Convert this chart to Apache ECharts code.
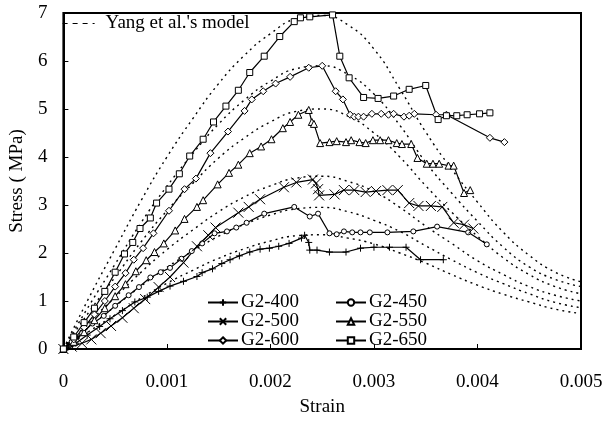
<!DOCTYPE html>
<html>
<head>
<meta charset="utf-8">
<script src="https://cdn.jsdelivr.net/npm/echarts@6/dist/echarts.min.js"></script>
<style>
  html, body { margin: 0; padding: 0; background: #fff; }
  #chart { width: 613px; height: 422px; }
</style>
</head>
<body>
<div id="chart"></div>
<script>
// ---- data ----
const xTicks = [0, 0.001, 0.002, 0.003, 0.004, 0.005];
const yTicks = [0, 1, 2, 3, 4, 5, 6, 7];

// experimental curves, [strain, stress (MPa)]
const g400 = [[0,0],[0.00012,0.12],[0.00023,0.29],[0.00035,0.47],[0.00045,0.63],[0.00057,0.8],[0.00069,0.98],[0.00081,1.08],[0.00092,1.2],[0.00103,1.31],[0.00116,1.41],[0.00129,1.51],[0.00134,1.59],[0.00144,1.67],[0.00153,1.78],[0.00161,1.86],[0.0017,1.94],[0.0018,2.02],[0.0019,2.08],[0.00199,2.1],[0.00208,2.14],[0.00218,2.2],[0.0023,2.31],[0.00233,2.37],[0.00237,2.22],[0.00238,2.06],[0.00245,2.06],[0.00257,2.02],[0.00273,2.02],[0.00287,2.1],[0.003,2.12],[0.00315,2.12],[0.00331,2.12],[0.00345,1.86],[0.00367,1.86]];
const g450 = [[0,0],[0.00008,0.15],[0.00018,0.33],[0.00028,0.53],[0.00039,0.69],[0.0005,0.9],[0.00063,1.12],[0.00073,1.29],[0.00084,1.49],[0.00094,1.6],[0.00103,1.69],[0.00114,1.88],[0.00124,2.04],[0.00134,2.2],[0.00146,2.41],[0.00158,2.45],[0.00167,2.53],[0.00177,2.63],[0.00194,2.82],[0.00223,2.96],[0.00238,2.76],[0.00246,2.82],[0.00257,2.41],[0.00264,2.39],[0.00271,2.45],[0.00279,2.43],[0.00287,2.43],[0.00296,2.43],[0.00313,2.43],[0.00338,2.45],[0.00361,2.55],[0.00391,2.43],[0.00409,2.18]];
const g500 = [[0,0],[0.00008,0.05],[0.00018,0.12],[0.00027,0.2],[0.00036,0.33],[0.00046,0.48],[0.00057,0.65],[0.00068,0.85],[0.00079,1.04],[0.00092,1.29],[0.00103,1.5],[0.00116,1.8],[0.00129,2.14],[0.0014,2.37],[0.00147,2.53],[0.00169,2.84],[0.00179,2.96],[0.0019,3.12],[0.00213,3.37],[0.00225,3.47],[0.00241,3.53],[0.00244,3.45],[0.00246,3.33],[0.00247,3.2],[0.00262,3.22],[0.00271,3.31],[0.00281,3.31],[0.00292,3.27],[0.00302,3.29],[0.00313,3.31],[0.00323,3.31],[0.00334,3.04],[0.00343,2.98],[0.00355,2.98],[0.00366,2.96],[0.00377,2.63],[0.00387,2.59],[0.00396,2.51]];
const g550 = [[0,0],[0.0001,0.15],[0.0002,0.35],[0.0003,0.6],[0.0004,0.85],[0.0005,1.1],[0.0006,1.35],[0.0007,1.62],[0.0008,1.85],[0.00088,2.02],[0.00097,2.2],[0.00108,2.47],[0.00117,2.71],[0.00129,2.96],[0.00135,3.1],[0.00149,3.43],[0.0016,3.67],[0.00169,3.84],[0.0018,4.08],[0.00191,4.22],[0.00201,4.37],[0.00212,4.6],[0.00219,4.73],[0.00227,4.88],[0.00237,4.98],[0.0024,4.73],[0.00242,4.69],[0.00248,4.29],[0.00257,4.31],[0.00264,4.33],[0.00273,4.31],[0.00278,4.35],[0.00286,4.31],[0.00292,4.29],[0.00299,4.35],[0.00306,4.35],[0.00314,4.35],[0.00322,4.29],[0.00327,4.27],[0.00336,4.27],[0.00342,3.98],[0.00351,3.86],[0.00357,3.86],[0.00363,3.86],[0.00372,3.82],[0.00377,3.82],[0.00387,3.25],[0.00393,3.31]];
const g600 = [[0,0],[0.0001,0.2],[0.0002,0.45],[0.0003,0.72],[0.0004,1.0],[0.0005,1.3],[0.0006,1.58],[0.00068,1.86],[0.00077,2.1],[0.00087,2.41],[0.00102,2.88],[0.00117,3.33],[0.00128,3.55],[0.00142,4.08],[0.00159,4.53],[0.00175,4.96],[0.00182,5.2],[0.00193,5.37],[0.00205,5.53],[0.00219,5.67],[0.00237,5.86],[0.0025,5.9],[0.00263,5.37],[0.0027,5.2],[0.00277,4.88],[0.00281,4.84],[0.00285,4.84],[0.0029,4.84],[0.00298,4.9],[0.00307,4.9],[0.00314,4.88],[0.00319,4.9],[0.00329,4.84],[0.00334,4.86],[0.00339,4.9],[0.0036,4.88],[0.0037,4.88],[0.00412,4.4],[0.00426,4.31]];
const g650 = [[0,0],[0.0001,0.25],[0.0002,0.55],[0.0003,0.85],[0.0004,1.2],[0.0005,1.6],[0.00059,1.98],[0.00067,2.22],[0.00074,2.51],[0.00084,2.73],[0.0009,3.04],[0.00102,3.33],[0.00112,3.65],[0.00122,4.02],[0.00135,4.37],[0.00145,4.73],[0.00157,5.06],[0.00169,5.39],[0.0018,5.76],[0.00194,6.1],[0.00209,6.51],[0.00223,6.82],[0.00229,6.9],[0.00238,6.92],[0.0026,6.96],[0.00267,6.1],[0.00276,5.65],[0.0029,5.24],[0.00304,5.22],[0.00319,5.27],[0.00334,5.41],[0.0035,5.49],[0.00362,4.78],[0.0037,4.86],[0.0038,4.86],[0.0039,4.88],[0.00402,4.9],[0.00412,4.92]];

// Yang et al.'s model curves, stress at modelStrain
const modelStrain = [0,0.00025,0.0005,0.00075,0.001,0.00125,0.0015,0.00175,0.002,0.00225,0.0025,0.00275,0.003,0.00325,0.0035,0.00375,0.004,0.00425,0.0045,0.00475,0.005];
const model650 = [0,1.08,2.09,3.09,4.0,4.8,5.53,6.12,6.57,6.88,6.95,6.75,6.25,5.42,4.52,3.75,3.06,2.43,1.95,1.6,1.4];
const model600 = [0,0.91,1.77,2.63,3.39,4.07,4.69,5.19,5.58,5.84,5.9,5.72,5.31,4.66,3.89,3.25,2.66,2.12,1.71,1.45,1.3];
const model550 = [0,0.78,1.5,2.23,2.88,3.45,3.98,4.4,4.73,4.95,5.0,4.85,4.5,4.0,3.4,2.85,2.35,1.9,1.55,1.3,1.15];
const model500 = [0,0.56,1.08,1.6,2.07,2.48,2.86,3.17,3.4,3.56,3.6,3.49,3.28,2.95,2.56,2.2,1.84,1.55,1.3,1.12,1.0];
const model450 = [0,0.46,0.89,1.31,1.7,2.04,2.35,2.6,2.79,2.92,2.95,2.86,2.68,2.45,2.15,1.86,1.59,1.36,1.15,0.97,0.86];
const model400 = [0,0.37,0.71,1.06,1.37,1.64,1.89,2.09,2.25,2.36,2.38,2.31,2.19,2.0,1.79,1.55,1.33,1.14,0.98,0.83,0.74];

const modelName = "Yang et al.'s model";
const font = 'Liberation Serif';

const chart = echarts.init(document.getElementById('chart'));

const expSeries = (name, data, symbol, size) => ({
  name,
  type: 'line',
  data,
  symbol,
  symbolSize: size,
  showSymbol: true,
  lineStyle: { color: '#000', width: 1.2 },
  itemStyle: { color: '#fff', borderColor: '#000', borderWidth: 1 },
  z: 3
});

const modelSeries = (vals) => ({
  name: modelName,
  type: 'line',
  data: modelStrain.map((x, i) => [x, vals[i]]),
  smooth: true,
  showSymbol: false,
  symbol: 'none',
  lineStyle: { color: '#000', width: 1.4, type: [2, 4] },
  itemStyle: { color: '#000' },
  z: 2
});

const legendText = { fontFamily: font, fontSize: 19, color: '#000', padding: [0, 0, 0, -2] };

chart.setOption({
  animation: false,
  backgroundColor: '#fff',
  grid: {
    left: 61, right: 32, top: 13, bottom: 66,
    show: true, borderColor: '#000', borderWidth: 2
  },
  legend: [
    {
      id: 'lgA',
      data: ['G2-400', 'G2-500', 'G2-600'],
      orient: 'vertical', left: 207, top: 293,
      itemWidth: 30, itemHeight: 8, itemGap: 0, padding: 0,
      textStyle: legendText
    },
    {
      id: 'lgB',
      data: ['G2-450', 'G2-550', 'G2-650'],
      orient: 'vertical', left: 335, top: 293,
      itemWidth: 30, itemHeight: 8, itemGap: 0, padding: 0,
      textStyle: legendText
    },
    {
      id: 'lgModel',
      data: [modelName],
      orient: 'horizontal', left: 62, top: 14,
      itemWidth: 32, itemHeight: 8, padding: 0,
      textStyle: { fontFamily: font, fontSize: 19, color: '#000', padding: [0, 0, 0, 6] },
      itemStyle: { color: 'rgba(0,0,0,0)', borderWidth: 0, opacity: 0 },
      lineStyle: { type: [5, 5], width: 1.2 }
    }
  ],
  xAxis: {
    type: 'value',
    min: 0, max: 0.005, interval: 0.001,
    name: 'Strain', nameLocation: 'middle', nameGap: 49,
    nameTextStyle: { fontFamily: font, fontSize: 19, color: '#000' },
    axisLine: { show: true, lineStyle: { color: '#000', width: 2 } },
    axisTick: { show: true, inside: true, length: 5, lineStyle: { color: '#000' } },
    axisLabel: {
      margin: 24, fontFamily: font, fontSize: 19, color: '#000',
      formatter: v => xTicks.includes(+v.toFixed(3)) ? String(+v.toFixed(3)) : ''
    },
    splitLine: { show: false }
  },
  yAxis: {
    type: 'value',
    min: yTicks[0], max: yTicks[yTicks.length - 1], interval: 1,
    name: 'Stress ( MPa)', nameLocation: 'middle', nameGap: 25,
    nameTextStyle: { fontFamily: font, fontSize: 19, color: '#000' },
    axisLine: { show: true, lineStyle: { color: '#000', width: 2 } },
    axisTick: { show: true, inside: true, length: 5, lineStyle: { color: '#000' } },
    axisLabel: { margin: 16, fontFamily: font, fontSize: 19, color: '#000' },
    splitLine: { show: false }
  },
  series: [
    modelSeries(model650),
    modelSeries(model600),
    modelSeries(model550),
    modelSeries(model500),
    modelSeries(model450),
    modelSeries(model400),
    expSeries('G2-400', g400, 'path://M0,5L10,5M5,0L5,10', 7),
    expSeries('G2-450', g450, 'circle', 5),
    expSeries('G2-500', g500, 'path://M0,0L10,10M10,0L0,10', 10),
    expSeries('G2-550', g550, 'triangle', 7),
    expSeries('G2-600', g600, 'diamond', 7),
    expSeries('G2-650', g650, 'rect', 6)
  ]
});
</script>
</body>
</html>
